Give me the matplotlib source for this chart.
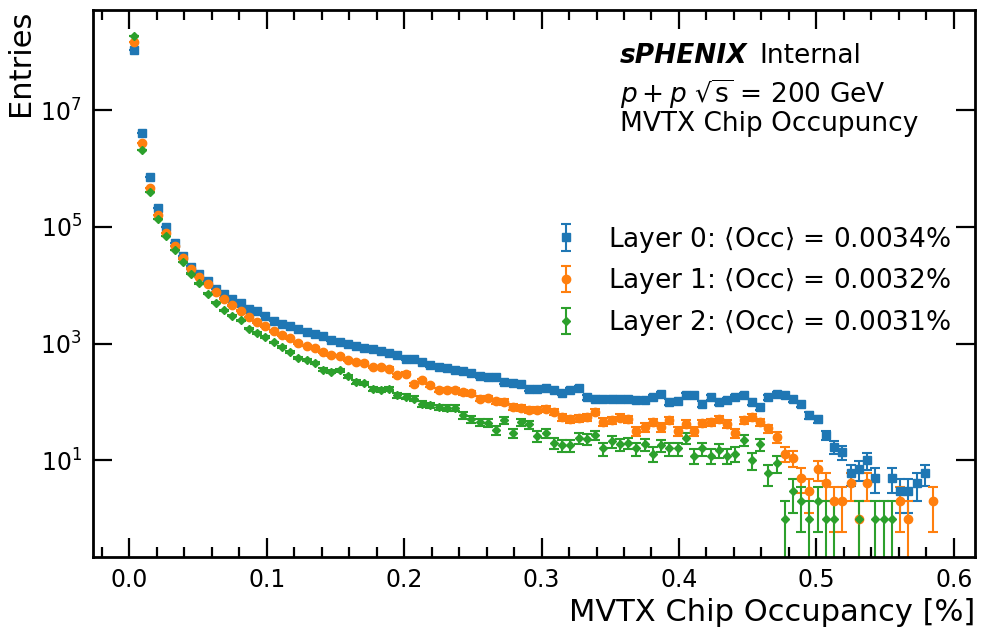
import numpy as np
import matplotlib
matplotlib.use("Agg")
import matplotlib.pyplot as plt
from matplotlib.ticker import MultipleLocator, NullLocator

# occupancy histogram, bin width 0.006 %
bin_width = 0.006
n_bins = 98
centers = bin_width / 2 + bin_width * np.arange(n_bins)

layer0 = [107000000, 3980000, 716000, 209000, 99000, 52500, 31600, 20900, 15500, 12000,
          8700, 7160, 5900, 4950, 3980, 3630, 3020, 2450, 2190, 1970,
          1800, 1580, 1480, 1330, 1140, 1070, 977, 902, 851, 813,
          759, 684, 631, 550, 550, 479, 422, 398, 380, 347,
          339, 313, 275, 269, 269, 219, 209, 204, 168, 168,
          174, 162, 141, 158, 174, 120, 114, 110, 114, 110,
          110, 106, 106, 120, 135, 100, 102, 129, 129, 93,
          120, 100, 106, 120, 129, 100, 81, 120, 138, 129,
          110, 91, 59, 50, 27, 17, 14, 6, 7, 10,
          5, 0, 5, 3, 3, 4, 6, 0]
layer1 = [145000000, 2750000, 468000, 162000, 78000, 46800, 28800, 19300, 13800, 10400,
          7670, 5900, 4520, 3630, 2850, 2340, 2000, 1640, 1410, 1220,
          1020, 923, 851, 716, 631, 603, 525, 479, 462, 398,
          398, 372, 285, 302, 200, 234, 191, 162, 158, 158,
          145, 140, 114, 117, 102, 100, 83, 79, 73, 72,
          76, 67, 55, 51, 52, 55, 67, 46, 48, 54,
          51, 32, 37, 45, 37, 48, 32, 42, 32, 43,
          45, 51, 42, 29, 48, 55, 45, 35, 25, 13,
          11, 5, 3, 7, 4, 2, 2, 4, 1, 4,
          0, 0, 0, 2, 1, 0, 0, 2]
layer2 = [186000000, 2070000, 390000, 138000, 69000, 40300, 25100, 15800, 10700, 7160,
          5000, 3720, 3020, 2510, 1800, 1510, 1290, 1050, 861, 716,
          575, 525, 462, 355, 331, 347, 275, 219, 209, 168,
          162, 166, 129, 123, 114, 93, 87, 81, 79, 79,
          59, 51, 45, 44, 33, 48, 29, 45, 41, 26,
          29, 20, 18, 18, 24, 23, 27, 16, 21, 19,
          20, 16, 19, 13, 18, 16, 16, 24, 12, 16,
          12, 15, 12, 13, 22, 10, 19, 6, 9, 1,
          3, 2, 1, 2, 1, 1, 0, 0, 1, 0,
          1, 1, 1, 0, 0, 0, 0, 0]

labels = [r"Layer 0: $\langle$Occ$\rangle$ = 0.0034%",
          r"Layer 1: $\langle$Occ$\rangle$ = 0.0032%",
          r"Layer 2: $\langle$Occ$\rangle$ = 0.0031%"]
colors = ["#1f77b4", "#ff7f0e", "#2ca02c"]
markers = ["s", "o", "D"]
msizes = [6, 6, 4.5]

plt.rcParams["font.family"] = "DejaVu Sans"
plt.rcParams["mathtext.fontset"] = "dejavusans"

fig = plt.figure(figsize=(9.82, 6.28), dpi=100)
ax = fig.add_axes([0.0947, 0.1131, 0.8982, 0.8710])

for vals, lab, c, m, ms in zip([layer0, layer1, layer2], labels, colors, markers, msizes):
    y = np.array(vals, dtype=float)
    keep = y > 0
    ax.errorbar(centers[keep], y[keep], yerr=np.sqrt(y[keep]), fmt=m, color=c,
                markersize=ms, elinewidth=1.5, capsize=3.5, capthick=1.5, label=lab)

ax.set_yscale("log")
ax.set_xlim(-0.0265, 0.6155)
ax.set_ylim(0.22, 5.2e8)

ax.xaxis.set_major_locator(MultipleLocator(0.1))
ax.xaxis.set_minor_locator(MultipleLocator(0.02))
ax.set_yticks([10, 1e3, 1e5, 1e7])
ax.yaxis.set_minor_locator(NullLocator())

ax.tick_params(which="both", direction="in", top=True, right=True, labelsize=17, width=1.6)
ax.tick_params(which="major", length=14, pad=8)
ax.tick_params(which="minor", length=7)
for s in ax.spines.values():
    s.set_linewidth(2)

ax.set_xlabel("MVTX Chip Occupancy [%]", fontsize=22, loc="right")
ax.set_ylabel("Entries", fontsize=22, loc="top")

tx = 0.5975
ax.text(tx, 0.94, "sPHENIX", transform=ax.transAxes, fontsize=19, va="top",
        fontweight="bold", fontstyle="italic")
ax.text(0.755, 0.94, "Internal", transform=ax.transAxes, fontsize=19, va="top")
ax.text(tx, 0.877, r"$p+p$ $\sqrt{\rm s}$ = 200 GeV", transform=ax.transAxes, fontsize=19, va="top")
ax.text(tx, 0.815, "MVTX Chip Occupuncy", transform=ax.transAxes, fontsize=19, va="top")

ax.legend(loc="upper right", bbox_to_anchor=(0.985, 0.627), frameon=False, fontsize=19,
          handletextpad=0.6, labelspacing=0.45, borderaxespad=0)

fig.savefig("out.png", dpi=100)
